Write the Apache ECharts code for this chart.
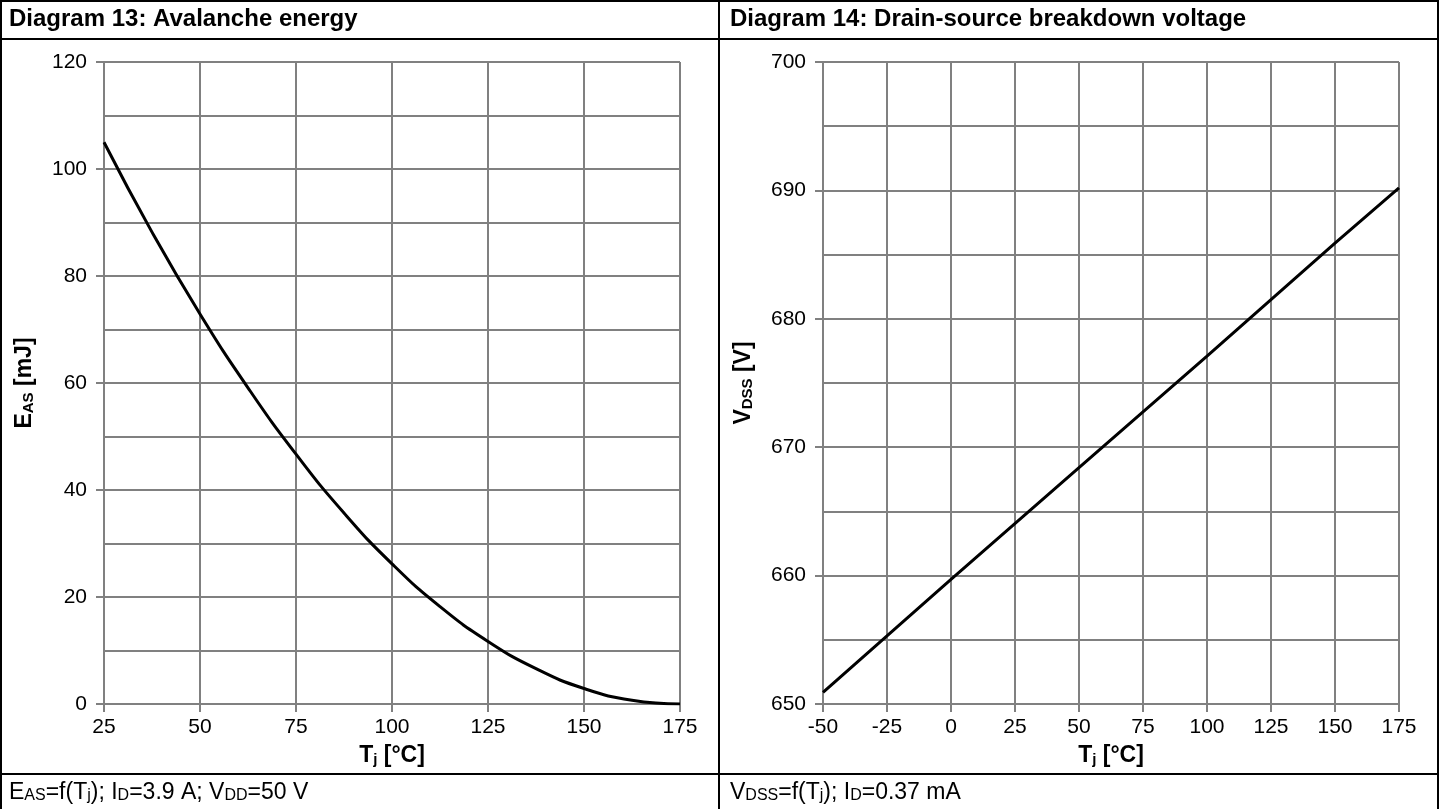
<!DOCTYPE html>
<html>
<head>
<meta charset="utf-8">
<script src="https://cdn.jsdelivr.net/npm/echarts@6/dist/echarts.min.js"></script>
<style>
html,body{margin:0;padding:0;background:#fff;}
#c{width:1441px;height:809px;}
</style>
</head>
<body>
<div id="c"></div>
<script>
// Diagram 13: Avalanche energy
const tjEas = [25, 37.5, 50, 62.5, 75, 87.5, 100, 112.5, 125, 137.5, 150, 162.5, 175];
const eas   = [105, 88.2, 72.9, 59.1, 46.7, 35.7, 26.2, 18.2, 11.7, 6.6, 2.9, 0.7, 0];
// Diagram 14: Drain-source breakdown voltage
const tjV  = [-50, 0, 50, 100, 150, 175];
const vdss = [650.9, 659.7, 668.4, 677.1, 685.9, 690.2];

const titles = ['Diagram 13: Avalanche energy', 'Diagram 14: Drain-source breakdown voltage'];

const FONT = '"Liberation Sans", Arial, sans-serif';
const GRID = '#808080';

function pairs(xs, ys){ return xs.map((x,i)=>[x, ys[i]]); }

const subRich = {
  m: {fontSize: 23, fontFamily: FONT, color:'#000', lineHeight: 26, verticalAlign:'bottom'},
  s: {fontSize: 16, fontFamily: FONT, color:'#000', lineHeight: 18, verticalAlign:'bottom'}
};
const subRichB = {
  m: {fontSize: 23, fontFamily: FONT, fontWeight:'bold', color:'#000', lineHeight: 26, verticalAlign:'bottom'},
  s: {fontSize: 15, fontFamily: FONT, fontWeight:'bold', color:'#000', lineHeight: 18, verticalAlign:'bottom'}
};

function xAxis(idx, min, max){
  return {
    type:'value', gridIndex: idx, min, max, interval: 25,
    name: '{m|T}{s|j}{m| [°C]}', nameLocation:'middle', nameGap: 37,
    nameTextStyle: {rich: subRichB},
    axisLine:{show:true, onZero:false, lineStyle:{color:GRID, width:2}},
    axisTick:{show:true, length:8, lineStyle:{color:GRID, width:2}},
    axisLabel:{color:'#000', fontSize:21, fontFamily:FONT, margin:13},
    splitLine:{show:true, lineStyle:{color:GRID, width:2}}
  };
}
function yAxis(idx, min, max, interval, name){
  return {
    type:'value', gridIndex: idx, min, max, interval,
    name, nameLocation:'middle', nameGap: 68,
    nameTextStyle: {rich: subRichB},
    axisLine:{show:true, onZero:false, lineStyle:{color:GRID, width:2}},
    axisTick:{show:true, length:8, lineStyle:{color:GRID, width:2}},
    axisLabel:{color:'#000', fontSize:21, fontFamily:FONT, margin:17},
    splitLine:{show:true, lineStyle:{color:GRID, width:2}},
    minorTick:{show:false, splitNumber:2},
    minorSplitLine:{show:true, lineStyle:{color:GRID, width:2}}
  };
}

const chart = echarts.init(document.getElementById('c'), null, {renderer:'canvas'});
chart.setOption({
  animation:false,
  backgroundColor:'#fff',
  grid:[
    {left:104, top:62, width:576, height:642},
    {left:823, top:62, width:576, height:642}
  ],
  xAxis:[ xAxis(0, 25, 175), xAxis(1, -50, 175) ],
  yAxis:[
    yAxis(0, 0, 120, 20, '{m|E}{s|AS}{m| [mJ]}'),
    yAxis(1, 650, 700, 10, '{m|V}{s|DSS}{m| [V]}')
  ],
  series:[
    {type:'line', xAxisIndex:0, yAxisIndex:0, data:pairs(tjEas, eas), smooth:true, showSymbol:false,
     lineStyle:{color:'#000', width:3}, z:5},
    {type:'line', xAxisIndex:1, yAxisIndex:1, data:pairs(tjV, vdss), showSymbol:false,
     lineStyle:{color:'#000', width:3}, z:5}
  ],
  graphic:[
    {type:'rect', shape:{x:1, y:1, width:1437, height:900}, style:{fill:null, stroke:'#000', lineWidth:2}, z:100},
    {type:'line', shape:{x1:1, y1:39, x2:1438, y2:39}, style:{stroke:'#000', lineWidth:2}, z:100},
    {type:'line', shape:{x1:1, y1:774, x2:1438, y2:774}, style:{stroke:'#000', lineWidth:2}, z:100},
    {type:'line', shape:{x1:719, y1:1, x2:719, y2:809}, style:{stroke:'#000', lineWidth:2}, z:100},
    {type:'text', left:9, top:7, style:{text:titles[0], font:'bold 24px '+FONT, fill:'#000'}, z:100},
    {type:'text', left:730, top:7, style:{text:titles[1], font:'bold 24px '+FONT, fill:'#000'}, z:100},
    {type:'text', left:9, top:781, style:{text:'{m|E}{s|AS}{m|=f(T}{s|j}{m|); I}{s|D}{m|=3.9 A; V}{s|DD}{m|=50 V}', rich:subRich}, z:100},
    {type:'text', left:730, top:781, style:{text:'{m|V}{s|DSS}{m|=f(T}{s|j}{m|); I}{s|D}{m|=0.37 mA}', rich:subRich}, z:100}
  ]
});
</script>
</body>
</html>
